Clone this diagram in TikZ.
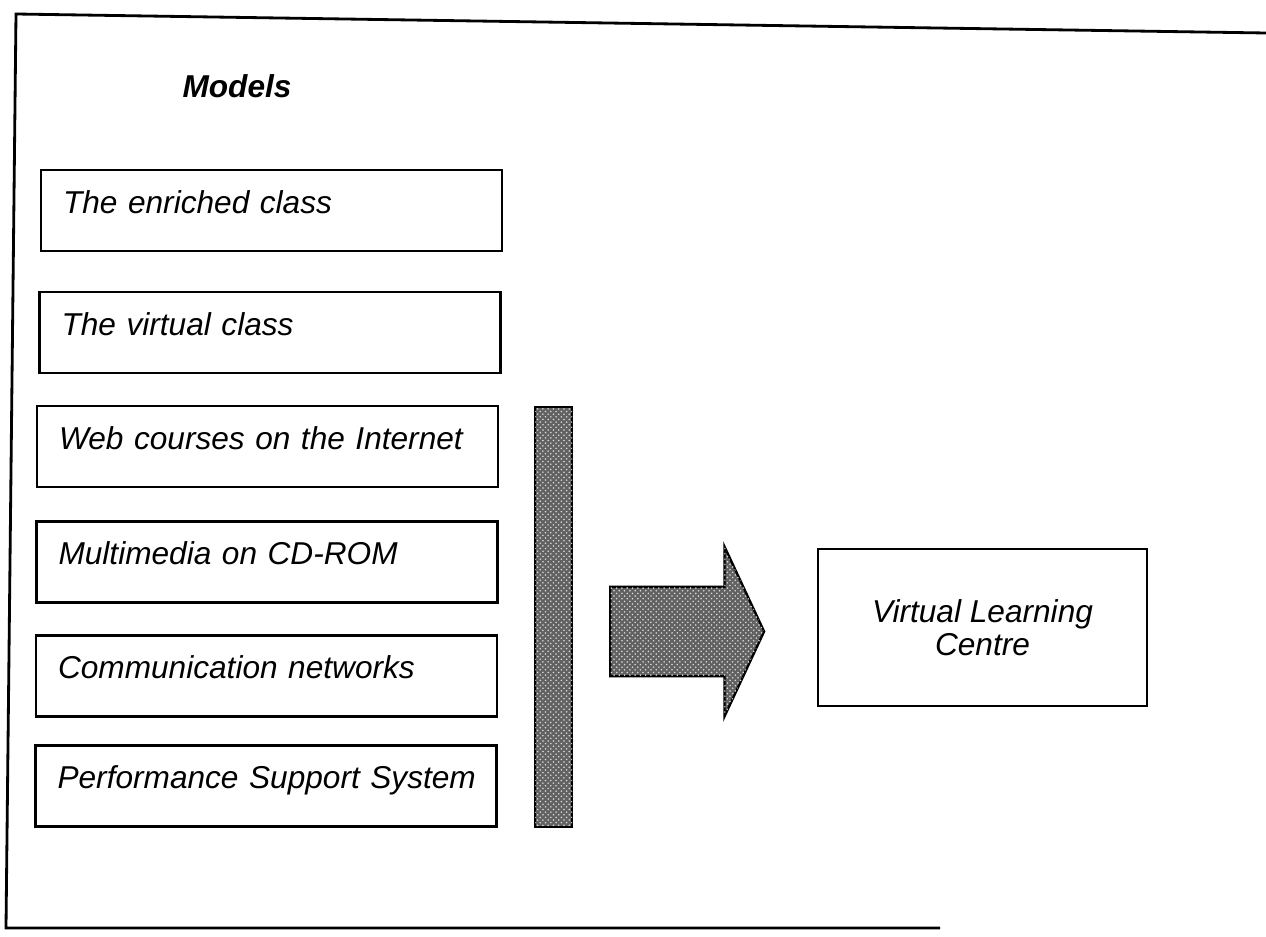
\documentclass[tikz,border=0pt]{standalone}
\usepackage{fontspec}
\setmainfont{Liberation Sans}
\usetikzlibrary{shapes,shapes.arrows,patterns}

\begin{document}
\begin{tikzpicture}[x=0.02cm,y=-0.02cm,
  model/.style={shape=rectangle,draw=black,line width=1.3pt,text width=8.34cm,inner xsep=0.44cm,minimum height=1.62cm,align=left,text height=13pt,text depth=10pt,font=\itshape\fontsize{18pt}{21pt}\selectfont},
  speckle/.style={fill=black!62,postaction={pattern=crosshatch dots,pattern color=white!85!black}}]
\useasboundingbox (0,0) rectangle (1266,936);
\draw[line width=1.6pt] (1266,33) -- (16,14) -- (6,928) -- (940,928);

\node[font=\bfseries\itshape\fontsize{18pt}{22pt}\selectfont] (title) at (237,86) {Models};

\node[model] (0) at (271.5,210.5) {The enriched class};
\node[model] (1) at (270,332.5) {The virtual class};
\node[model] (2) at (267.5,446.5) {Web courses on the Internet};
\node[model] (3) at (267,562) {Multimedia on CD-ROM};
\node[model] (4) at (266.5,676) {Communication networks};
\node[model] (5) at (266,786) {\mbox{Performance Support System}};

\node[shape=rectangle,draw=black,line width=1.3pt,speckle,minimum width=0.74cm,minimum height=8.4cm,inner sep=0] (bar) at (553.5,617) {};

\node[shape=single arrow,draw=black,line width=1.3pt,speckle,anchor=tail,inner sep=0,text height=1.74cm,text depth=0pt,minimum height=3.08cm,minimum width=3.36cm,single arrow head extend=0.81cm,single arrow tip angle=130] (arrow) at (609,631.5) {};

\node[shape=rectangle,draw=black,line width=1.3pt,minimum width=6.58cm,minimum height=3.14cm,align=center,font=\itshape\fontsize{18pt}{19pt}\selectfont] (centre) at (982.5,627.5) {Virtual Learning\\Centre};
\end{tikzpicture}
\end{document}
